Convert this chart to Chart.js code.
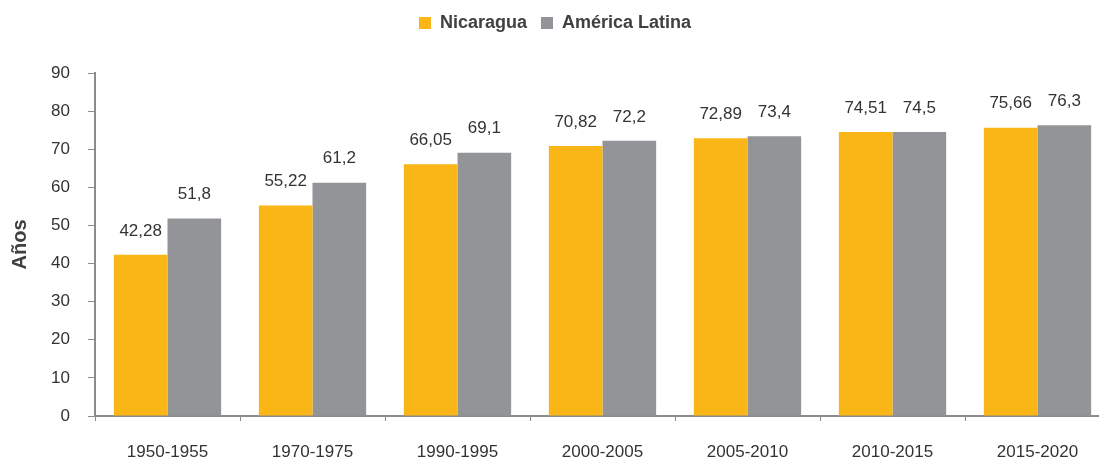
<!DOCTYPE html>
<html>
<head>
<meta charset="utf-8">
<script src="https://cdn.jsdelivr.net/npm/chart.js@4/dist/chart.umd.min.js"></script>
<style>
  html, body { margin: 0; padding: 0; background: #fff; overflow: hidden; }
  /* the original plot runs a little past the right edge of the picture */
  #wrap { width: 1099px; height: 462px; overflow: hidden; }
</style>
</head>
<body>
<div id="wrap"><canvas id="chart" width="1110" height="462"></canvas></div>
<script>
const periods = ["1950-1955", "1970-1975", "1990-1995", "2000-2005", "2005-2010", "2010-2015", "2015-2020"];
const nicaragua = [42.28, 55.22, 66.05, 70.82, 72.89, 74.51, 75.66];
const latam = [51.8, 61.2, 69.1, 72.2, 73.4, 74.5, 76.3];
const seriesNames = ["Nicaragua", "América Latina"];
const yTicks = [0, 10, 20, 30, 40, 50, 60, 70, 80, 90];

const ORANGE = "#fab617";
const GREY = "#929497";
const TXT = "#333333";
const FONT = "'Liberation Sans', Arial, sans-serif";

// values above each bar, decimal comma
const valueLabels = {
  id: "valueLabels",
  afterDatasetsDraw(chart) {
    const ctx = chart.ctx;
    ctx.save();
    ctx.font = "17px " + FONT;
    ctx.fillStyle = TXT;
    ctx.textAlign = "center";
    ctx.textBaseline = "middle";
    chart.data.datasets.forEach((ds, i) => {
      chart.getDatasetMeta(i).data.forEach((bar, j) => {
        const txt = String(ds.data[j]).replace(".", ",");
        ctx.fillText(txt, bar.x, bar.y - 24);
      });
    });
    ctx.restore();
  }
};

// extra room under the legend
const legendGap = {
  id: "legendGap",
  beforeInit(chart) {
    const fit = chart.legend.fit;
    chart.legend.fit = function () {
      fit.bind(chart.legend)();
      this.height += 31;
    };
  }
};

new Chart(document.getElementById("chart"), {
  type: "bar",
  data: {
    labels: periods,
    datasets: [
      { label: seriesNames[0], data: nicaragua, backgroundColor: ORANGE },
      { label: seriesNames[1], data: latam, backgroundColor: GREY }
    ]
  },
  options: {
    responsive: false,
    animation: false,
    layout: { padding: { top: 0, right: 0, left: 0, bottom: 0 } },
    datasets: { bar: { categoryPercentage: 0.74, barPercentage: 1.0 } },
    plugins: {
      legend: {
        position: "top",
        labels: {
          boxWidth: 12,
          boxHeight: 12,
          padding: 14,
          color: "#404040",
          font: { family: FONT, size: 18, weight: "bold" }
        }
      },
      tooltip: { enabled: false }
    },
    scales: {
      x: {
        afterFit(scale) { scale.height = 46; },
        grid: { display: true, drawOnChartArea: false, offset: true, color: "#8c8c8c", tickLength: 5, lineWidth: 1 },
        border: { color: "#8c8c8c", width: 2 },
        ticks: { color: TXT, font: { family: FONT, size: 17 }, padding: 21 }
      },
      y: {
        min: 0,
        max: 90,
        afterBuildTicks(scale) { scale.ticks = yTicks.map(v => ({ value: v })); },
        afterFit(scale) { scale.width = 95; },
        grid: { display: true, drawOnChartArea: false, color: "#8c8c8c", tickLength: 7 },
        border: { color: "#8c8c8c", width: 2 },
        ticks: { color: TXT, font: { family: FONT, size: 17 }, padding: 18 },
        title: {
          display: true,
          text: "Años",
          color: "#404040",
          font: { family: FONT, size: 20, weight: "bold" },
          padding: { top: 8, bottom: 0 }
        }
      }
    }
  },
  plugins: [valueLabels, legendGap]
});
</script>
</body>
</html>
